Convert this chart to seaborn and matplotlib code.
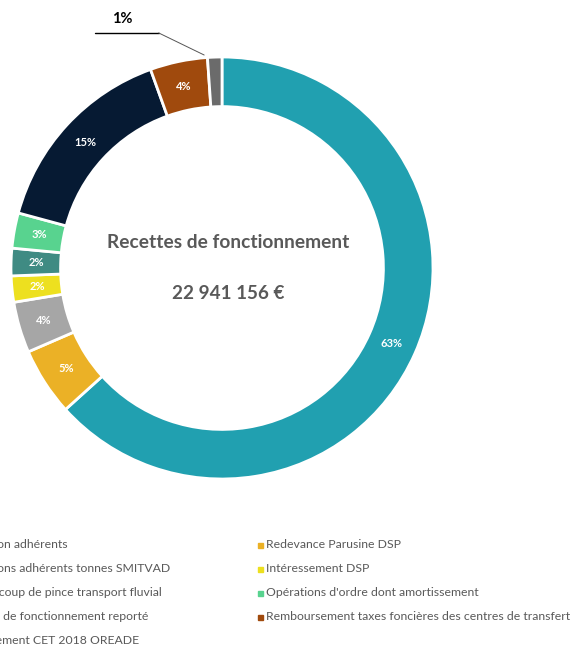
import matplotlib
matplotlib.use("Agg")
import matplotlib.pyplot as plt
import seaborn as sns
import numpy as np
from matplotlib.patches import Rectangle

# postes de recettes (ordre du graphique, sens horaire depuis midi)
postes = [
    "Cotisation adhérents",
    "Redevance Parusine DSP",
    "Cotisations adhérents tonnes SMITVAD",
    "Intéressement DSP",
    "Produit coup de pince transport fluvial",
    "Opérations d'ordre dont amortissement",
    "Résultat de fonctionnement reporté",
    "Remboursement taxes foncières des centres de transfert",
    "Dégrèvement CET 2018 OREADE",
]
montants = [14522000, 1193000, 895000, 459000, 482000, 619000, 3510000, 1009000, 252156]
couleurs = ["#21A0B0", "#EBB126", "#A6A6A6", "#EDE01F", "#3F8B83",
            "#58D38F", "#061A33", "#A04A0D", "#6B6B6B"]

sns.set_theme(style="white")
plt.rcParams["font.family"] = ["Lato", "DejaVu Sans"]

fig = plt.figure(figsize=(5.74, 6.49), dpi=100)
W, H = 574, 649
cx, cy, R = 222, 268, 211
ax = fig.add_axes([(cx - R) / W, (H - cy - R) / H, 2 * R / W, 2 * R / H])

total = sum(montants)
pal = sns.color_palette(couleurs)

def etiquette(p):
    return "" if p < 1.5 else "%d%%" % round(p)

wedges, _, autotexts = ax.pie(
    montants, colors=pal, startangle=90, counterclock=False,
    autopct=etiquette, pctdistance=0.88,
    wedgeprops=dict(width=0.235, edgecolor="white", linewidth=2),
    textprops=dict(color="white", fontsize=8, fontweight="bold"))
ax.set_xlim(-1, 1)
ax.set_ylim(-1, 1)
ax.set_aspect("equal")
ax.axis("off")

# petite part : étiquette externe avec ligne de rappel
w = wedges[-1]
ang = np.deg2rad((w.theta1 + w.theta2) / 2)
px, py = np.cos(ang) - 0.05, np.sin(ang) + 0.01
ax.plot([-0.60, -0.30], [1.114, 1.114], color="black", lw=1, clip_on=False)
ax.plot([-0.30, px], [1.114, py], color="#555555", lw=0.7, clip_on=False)
pct_petit = 100 * montants[-1] / total
ax.text(-0.475, 1.18, "%d%%" % round(pct_petit), ha="center", va="center",
        fontsize=10.5, fontweight="bold", color="black", clip_on=False)

# texte central
ax.text(0.03, 0.12, "Recettes de fonctionnement", ha="center", va="center",
        fontsize=13.8, fontweight="bold", color="#595959")
ax.text(0.03, -0.12, "{:,} €".format(total).replace(",", " "), ha="center",
        va="center", fontsize=13.6, fontweight="bold", color="#595959")

# légende (deux colonnes, ordre ligne par ligne)
rows_y = [545, 569, 593, 617, 641]
col_x = [-44, 266]
for i, (nom, c) in enumerate(zip(postes, pal)):
    r, k = divmod(i, 2)
    tx, ty = col_x[k], rows_y[r]
    fig.text(tx / W, 1 - ty / H, nom, ha="left", va="center",
             fontsize=8.85, color="#595959")
    fig.patches.append(Rectangle(((tx - 8) / W, 1 - (ty + 2.5) / H), 5 / W, 5 / H,
                                 transform=fig.transFigure, color=c, figure=fig))

fig.savefig("out.png", dpi=100, facecolor="white")
